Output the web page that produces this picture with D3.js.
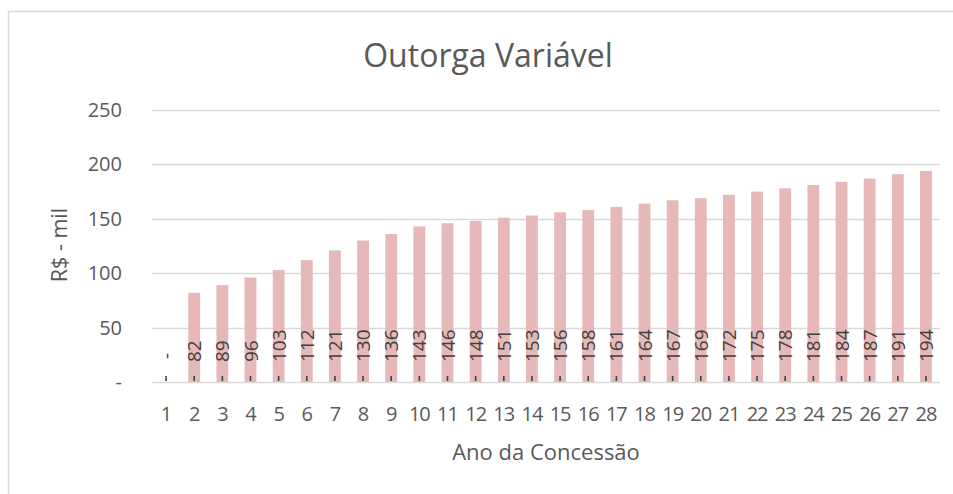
<!DOCTYPE html>
<html>
<head>
<meta charset="utf-8">
<script src="https://cdn.jsdelivr.net/npm/d3@7"></script>
<style>
	body { margin: 0; background: #fff; }
	svg { display: block; font-family: "Open Sans", "Noto Sans", sans-serif; }
</style>
</head>
<body>
<div id="chart"></div>
<script>
const anos = d3.range(1, 29);
const valores = [0, 82, 89, 96, 103, 112, 121, 130, 136, 143, 146, 148, 151, 153, 156,
	158, 161, 164, 167, 169, 172, 175, 178, 181, 184, 187, 191, 194];
const yTicks = [0, 50, 100, 150, 200, 250];

const width = 953, height = 494;
const margin = { top: 110, right: 13, bottom: 112, left: 152 };

const svg = d3.select('#chart').append('svg')
	.attr('width', width)
	.attr('height', height);

// moldura do grafico
svg.append('rect')
	.attr('x', 8.5).attr('y', 11.5)
	.attr('width', 980).attr('height', 520)
	.attr('fill', 'none')
	.attr('stroke', '#d9d9d9')
	.attr('stroke-width', 1.5);

const x = d3.scaleBand()
	.domain(anos)
	.range([margin.left, width - margin.right])
	.paddingInner(0.58)
	.paddingOuter(0.29);

const y = d3.scaleLinear()
	.domain([0, 250])
	.range([height - margin.bottom, margin.top]);

// grade
svg.append('g')
	.selectAll('line')
	.data(yTicks)
	.join('line')
	.attr('x1', margin.left)
	.attr('x2', width - margin.right)
	.attr('y1', d => Math.round(y(d)) + 0.5)
	.attr('y2', d => Math.round(y(d)) + 0.5)
	.attr('stroke', '#d9d9d9')
	.attr('stroke-width', 1.3);

// barras
svg.append('g')
	.selectAll('rect')
	.data(valores)
	.join('rect')
	.attr('x', (d, i) => x(anos[i]))
	.attr('y', d => y(d))
	.attr('width', x.bandwidth())
	.attr('height', d => y(0) - y(d))
	.attr('fill', '#e6b8b7');

// eixo y
const yAxis = svg.append('g')
	.attr('transform', `translate(${margin.left - 30},0)`)
	.call(d3.axisLeft(y).tickValues(yTicks).tickSize(0).tickPadding(0)
		.tickFormat(d => d === 0 ? '-' : d));
yAxis.select('.domain').remove();
yAxis.selectAll('text')
	.attr('font-size', 20)
	.attr('fill', '#595959')
	.attr('font-family', '"Open Sans", sans-serif');

// eixo x
const xAxis = svg.append('g')
	.attr('transform', `translate(0,${height - margin.bottom})`)
	.call(d3.axisBottom(x).tickSize(0).tickPadding(25));
xAxis.select('.domain').remove();
xAxis.selectAll('text')
	.attr('font-size', 20)
	.attr('fill', '#595959')
	.attr('font-family', '"Open Sans", sans-serif')
	.attr('letter-spacing', -1);

// marcas na base de cada rotulo
svg.append('g')
	.selectAll('line')
	.data(anos)
	.join('line')
	.attr('x1', d => x(d) + x.bandwidth() / 2)
	.attr('x2', d => x(d) + x.bandwidth() / 2)
	.attr('y1', y(0) - 6)
	.attr('y2', y(0) - 1)
	.attr('stroke', '#404040')
	.attr('stroke-width', 1.6);

// rotulos de dados
svg.append('g')
	.selectAll('text')
	.data(valores)
	.join('text')
	.attr('transform', (d, i) => `translate(${x(anos[i]) + x.bandwidth() / 2 + 7},${y(0) - 20}) rotate(-90)`)
	.attr('font-size', 19)
	.attr('fill', '#404040')
	.attr('text-anchor', d => d === 0 ? 'middle' : 'start')
	.attr('dx', d => d === 0 ? 6 : 0)
	.text(d => d === 0 ? '-' : d);

// titulo
svg.append('text')
	.attr('x', 488)
	.attr('y', 67)
	.attr('text-anchor', 'middle')
	.attr('font-size', 32)
	.attr('fill', '#595959')
	.text('Outorga Variável');

// titulos dos eixos
svg.append('text')
	.attr('transform', `translate(67,245) rotate(-90)`)
	.attr('text-anchor', 'middle')
	.attr('font-size', 21.5)
	.attr('fill', '#595959')
	.text('R$ - mil');

svg.append('text')
	.attr('x', (margin.left + width - margin.right) / 2)
	.attr('y', 460)
	.attr('text-anchor', 'middle')
	.attr('font-size', 22)
	.attr('fill', '#595959')
	.text('Ano da Concessão');
</script>
</body>
</html>
